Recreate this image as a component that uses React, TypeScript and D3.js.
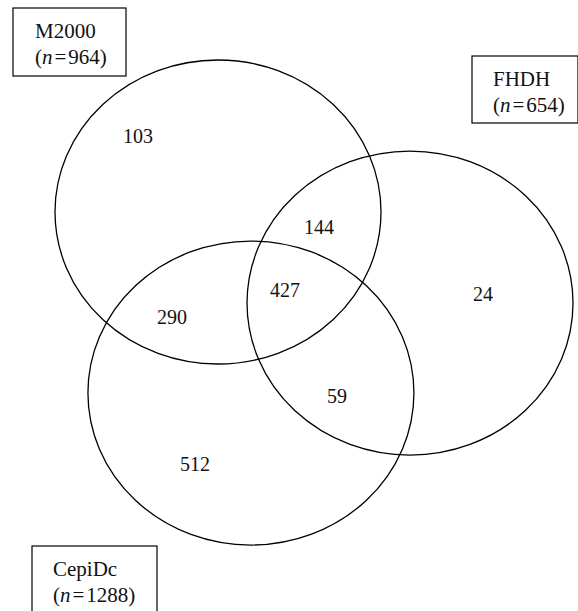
import React from 'react';
import * as d3 from 'd3';

// sets and their sizes
const setNames = ['M2000', 'FHDH', 'CepiDc'];
const setSizes = [964, 654, 1288];

// region counts: only-M, only-F, only-C, M&F, M&C, F&C, all three
const regionKeys = ['M', 'F', 'C', 'MF', 'MC', 'FC', 'MFC'];
const regionCounts = [103, 24, 512, 144, 290, 59, 427];

// layout (unit circles, radius 1, origin at M2000 centre)
const setCenters: [number, number][] = [
  [0, 0],
  [1.178, 0.599],
  [0.202, 1.191],
];
const regionPos: [number, number][] = [
  [-0.491, -0.454],
  [1.626, 0.586],
  [-0.141, 1.704],
  [0.62, 0.145],
  [-0.282, 0.737],
  [0.73, 1.257],
  [0.411, 0.559],
];

// label boxes in pixels: x, y, width, height
const boxes = [
  { x: 13, y: 8, w: 113, h: 68, tx: 35 },
  { x: 472, y: 56, w: 106, h: 67, tx: 493 },
  { x: 32, y: 546, w: 125, h: 80, tx: 53 },
];

const W = 578;
const H = 611;

export default function App() {
  // one unit = circle radius
  const x = d3.scaleLinear().domain([0, 1]).range([218, 381]);
  const y = d3.scaleLinear().domain([0, 1]).range([212, 364]);
  const rx = x(1) - x(0);
  const ry = y(1) - y(0);

  const font = '"Liberation Serif", "Times New Roman", serif';

  return (
    <svg
      width={W}
      height={H}
      viewBox={`0 0 ${W} ${H}`}
      style={{ position: 'absolute', left: 0, top: 0, background: '#fff' }}
      fontFamily={font}
    >
      <rect width={W} height={H} fill="#fff" />

      {/* set outlines */}
      {setCenters.map(([cx, cy], i) => (
        <ellipse
          key={setNames[i]}
          cx={x(cx)}
          cy={y(cy)}
          rx={rx}
          ry={ry}
          fill="none"
          stroke="#000"
          strokeWidth={1.3}
        />
      ))}

      {/* region counts */}
      {regionCounts.map((v, i) => (
        <text
          key={regionKeys[i]}
          x={x(regionPos[i][0])}
          y={y(regionPos[i][1])}
          textAnchor="middle"
          fontSize={20}
          fill="#111"
        >
          {v}
        </text>
      ))}

      {/* set label boxes */}
      {boxes.map((b, i) => (
        <g key={'box' + i}>
          <rect x={b.x} y={b.y} width={b.w} height={b.h} fill="#fff" stroke="#000" strokeWidth={1.2} />
          <text x={b.tx} y={b.y + 30} fontSize={21} fill="#111">
            {setNames[i]}
          </text>
          <text x={b.tx} y={b.y + 56} fontSize={21} fill="#111">
            <tspan>(</tspan>
            <tspan fontStyle="italic">n</tspan>
            <tspan dx={2}>=</tspan>
            <tspan dx={2}>{setSizes[i]})</tspan>
          </text>
        </g>
      ))}
    </svg>
  );
}
